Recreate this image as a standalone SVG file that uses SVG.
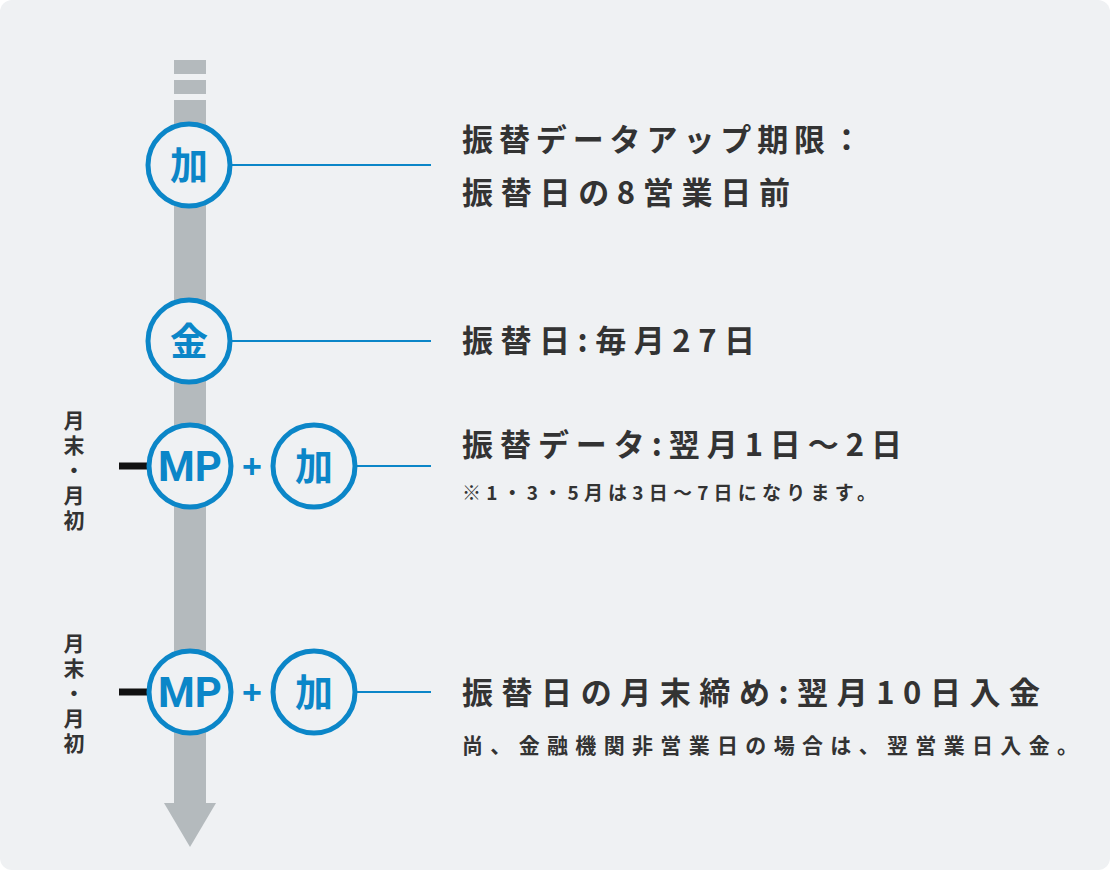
<svg xmlns="http://www.w3.org/2000/svg" width="1110" height="870" viewBox="0 0 1110 870">
<defs>
<style>
.bg{fill:#eff1f3}
.shaft{fill:#b4babd}
.ring{fill:#eff1f3;stroke:#0b86c8;stroke-width:5}
.lnk{stroke:#0b86c8;stroke-width:2;fill:none}
.tick{stroke:#111;stroke-width:7}
.ic{font-family:"Noto Sans CJK JP",sans-serif;font-weight:bold;font-size:38px;fill:#0b86c8;text-anchor:middle}
.mp{font-family:Roboto,"Liberation Sans",sans-serif;font-weight:bold;font-size:42px;fill:#0b86c8;text-anchor:middle}
.plus{font-family:"Liberation Sans",sans-serif;font-weight:bold;font-size:34px;fill:#0b86c8;text-anchor:middle}
.h{font-family:"Noto Sans CJK JP",sans-serif;font-weight:bold;font-size:31px;fill:#333}
.s1{font-family:"Noto Sans CJK JP",sans-serif;font-weight:bold;font-size:19px;fill:#333}
.s2{font-family:"Noto Sans CJK JP",sans-serif;font-weight:bold;font-size:21px;fill:#333}
.v{font-family:"Noto Sans CJK JP",sans-serif;font-weight:bold;font-size:21px;fill:#333;writing-mode:vertical-rl;letter-spacing:4px}
</style>
</defs>
<rect width="1110" height="870" fill="#fff"/>
<rect class="bg" width="1110" height="870" rx="12"/>
<g id="timeline">
<rect class="shaft" x="174" y="60" width="32" height="14"/>
<rect class="shaft" x="174" y="80" width="32" height="14"/>
<rect class="shaft" x="174" y="100" width="32" height="704"/>
<polygon class="shaft" points="164,803 216,803 190,847"/>
</g>
<g id="connectors">
<line class="lnk" x1="232" y1="165" x2="431" y2="165"/>
<line class="lnk" x1="232" y1="341" x2="431" y2="341"/>
<line class="lnk" x1="357" y1="466" x2="431" y2="466"/>
<line class="lnk" x1="357" y1="692" x2="431" y2="692"/>
<line class="tick" x1="119" y1="466" x2="148" y2="466"/>
<line class="tick" x1="119" y1="692" x2="148" y2="692"/>
</g>
<g id="node-ka1">
<circle class="ring" cx="189" cy="165" r="41"/>
<text class="ic" x="189" y="179">加</text>
</g>
<g id="node-kin">
<circle class="ring" cx="189" cy="341" r="41"/>
<text class="ic" x="189" y="355">金</text>
</g>
<g id="node-mp1">
<circle class="ring" cx="190" cy="466" r="41"/>
<text class="mp" x="190" y="481">MP</text>
</g>
<text class="plus" x="252" y="478">+</text>
<g id="node-ka2">
<circle class="ring" cx="314" cy="466" r="41"/>
<text class="ic" x="314" y="480">加</text>
</g>
<g id="node-mp2">
<circle class="ring" cx="190" cy="692" r="41"/>
<text class="mp" x="190" y="707">MP</text>
</g>
<text class="plus" x="252" y="704">+</text>
<g id="node-ka3">
<circle class="ring" cx="314" cy="692" r="41"/>
<text class="ic" x="314" y="706">加</text>
</g>
<g id="labels-left">
<text class="v" x="74" y="410">月末・月初</text>
<text class="v" x="74" y="633">月末・月初</text>
</g>
<g id="desc1">
<text class="h" x="462" y="151" textLength="400" lengthAdjust="spacing">振替データアップ期限：</text>
<text class="h" x="462" y="204" textLength="328" lengthAdjust="spacing">振替日の8営業日前</text>
</g>
<g id="desc2">
<text class="h" x="462" y="352" textLength="293" lengthAdjust="spacing">振替日:毎月27日</text>
</g>
<g id="desc3">
<text class="h" x="462" y="456" textLength="440" lengthAdjust="spacing">振替データ:翌月1日～2日</text>
<text class="s1" x="462" y="500" textLength="414" lengthAdjust="spacing">※1・3・5月は3日～7日になります。</text>
</g>
<g id="desc4">
<text class="h" x="462" y="704" textLength="578" lengthAdjust="spacing">振替日の月末締め:翌月10日入金</text>
<text class="s2" x="462" y="753" textLength="616" lengthAdjust="spacing">尚、金融機関非営業日の場合は、翌営業日入金。</text>
</g>
</svg>
